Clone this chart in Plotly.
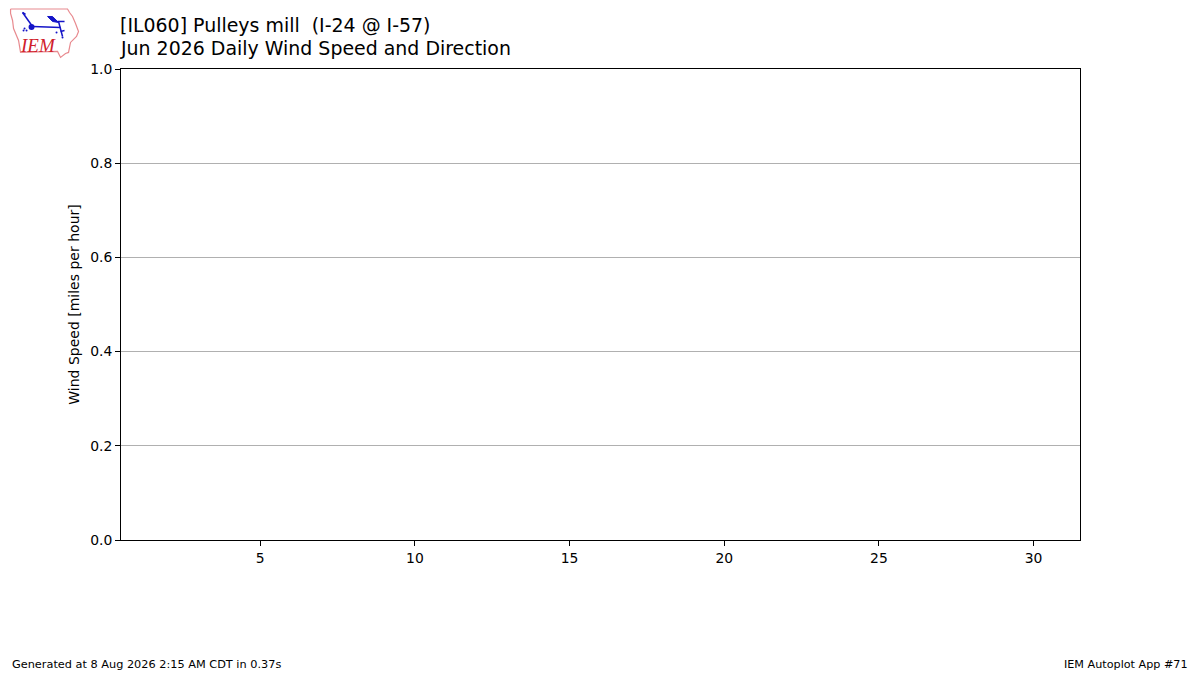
"""IEM Autoplot #71 - daily wind speed and direction, month with no observations."""
import plotly.graph_objects as go

FONT = "DejaVu Sans"
# the page has an 8px body margin, so the figure fills what is left of the window
W, H = 1192, 667
# plot area in window pixels
LEFT, RIGHT, TOP, BOTTOM = 120.5, 1080, 68.6, 540.4

# the station reported nothing this month, so the series are empty
days = []
wind_speed = []

x_ticks = [5, 10, 15, 20, 25, 30]
y_ticks = [0.0, 0.2, 0.4, 0.6, 0.8, 1.0]
y_labels = ["0.0", "0.2", "0.4", "0.6", "0.8", "1.0"]

title_lines = ["[IL060] Pulleys mill  (I-24 @ I-57)", "Jun 2026 Daily Wind Speed and Direction"]
y_title = "Wind Speed [miles per hour]"
footer_left = "Generated at 8 Aug 2026 2:15 AM CDT in 0.37s"
footer_right = "IEM Autoplot App #71"

# logo outlines, in window pixels
STATE_OUTLINE = [
    (10, 8.5), (67, 8.5), (69, 12), (72, 16), (75, 23), (78, 31), (76, 36), (70, 42),
    (69, 47), (68, 52), (65, 53), (60, 57), (57, 51), (20, 52), (18, 40), (13, 28),
    (12, 20), (10, 13), (10, 8.5),
]
BLUE_LINES = [
    [(32, 26), (60, 27)],
    [(57, 21), (64, 21)],
    [(58, 21), (62, 36)],
    [(22, 12), (32, 26)],
    [(22, 12), (25, 14)],
    [(60, 31), (64, 30)],
]
VANE = [(47, 16), (52, 16), (58, 22), (52, 21)]
BLUE_DOTS = [(24, 28, 1), (26, 30, 1), (23, 30, 1), (31, 26.5, 3), (56, 32, 1), (62, 37, 1)]


def page_x(x):
    return (x - LEFT) / (RIGHT - LEFT)


def page_y(y):
    return (BOTTOM - y) / (BOTTOM - TOP)


def px_path(points, close=False):
    parts = [f"{page_x(x):.5f},{page_y(y):.5f}" for x, y in points]
    return "M " + " L ".join(parts) + (" Z" if close else "")


fig = go.Figure()
fig.add_trace(go.Scatter(x=days, y=wind_speed, mode="lines+markers", showlegend=False))

shapes = [dict(type="path", xref="paper", yref="paper", path=px_path(STATE_OUTLINE),
               line=dict(color="#e88a8f", width=1.2))]
for seg in BLUE_LINES:
    shapes.append(dict(type="path", xref="paper", yref="paper", path=px_path(seg),
                       line=dict(color="#1414c8", width=1.5)))
shapes.append(dict(type="path", xref="paper", yref="paper", path=px_path(VANE, close=True),
                   line=dict(color="#1414c8", width=1), fillcolor="#1414c8"))
for cx, cy, r in BLUE_DOTS:
    shapes.append(dict(type="circle", xref="paper", yref="paper",
                       x0=page_x(cx - r), x1=page_x(cx + r), y0=page_y(cy + r), y1=page_y(cy - r),
                       line=dict(color="#1414c8", width=0), fillcolor="#1414c8"))

annotations = [
    dict(text=title_lines[0], x=118.2, y=25, font=dict(size=18.95)),
    dict(text=title_lines[1], x=118.2, y=48, font=dict(size=18.95)),
    dict(text=footer_left, x=10.2, y=665, font=dict(size=11.3)),
    dict(text=footer_right, x=1189, y=665, xanchor="right", font=dict(size=11.2)),
    dict(text="<i>IEM</i>", x=18.5, y=45, font=dict(size=19, family="Liberation Serif", color="#d0202a")),
]
for a in annotations:
    a["x"] = page_x(a["x"])
    a["y"] = page_y(a["y"])
    a.update(xref="paper", yref="paper", showarrow=False, yanchor="middle", borderpad=0)
    a.setdefault("xanchor", "left")

fig.update_layout(
    width=W,
    height=H,
    autosize=False,
    margin=dict(l=LEFT - 8, r=W - (RIGHT - 8), t=TOP - 8, b=H - (BOTTOM - 8), pad=0),
    paper_bgcolor="white",
    plot_bgcolor="white",
    font=dict(family=FONT, size=13.9, color="black"),
    showlegend=False,
    shapes=shapes,
    annotations=annotations,
    xaxis=dict(
        range=[0.5, 31.5],
        tickmode="array",
        tickvals=x_ticks,
        ticks="outside",
        ticklen=5,
        tickwidth=1,
        tickcolor="black",
        showgrid=False,
        zeroline=False,
        showline=True,
        linecolor="black",
        linewidth=1,
        mirror=True,
    ),
    yaxis=dict(
        range=[0, 1],
        tickmode="array",
        tickvals=y_ticks,
        ticktext=y_labels,
        ticks="outside",
        ticklen=5,
        tickwidth=1,
        tickcolor="black",
        showgrid=True,
        gridcolor="#b0b0b0",
        gridwidth=1,
        zeroline=False,
        showline=True,
        linecolor="black",
        linewidth=1,
        mirror=True,
        title=dict(text=y_title, font=dict(size=14), standoff=7),
    ),
)

fig.write_html("out.html")
